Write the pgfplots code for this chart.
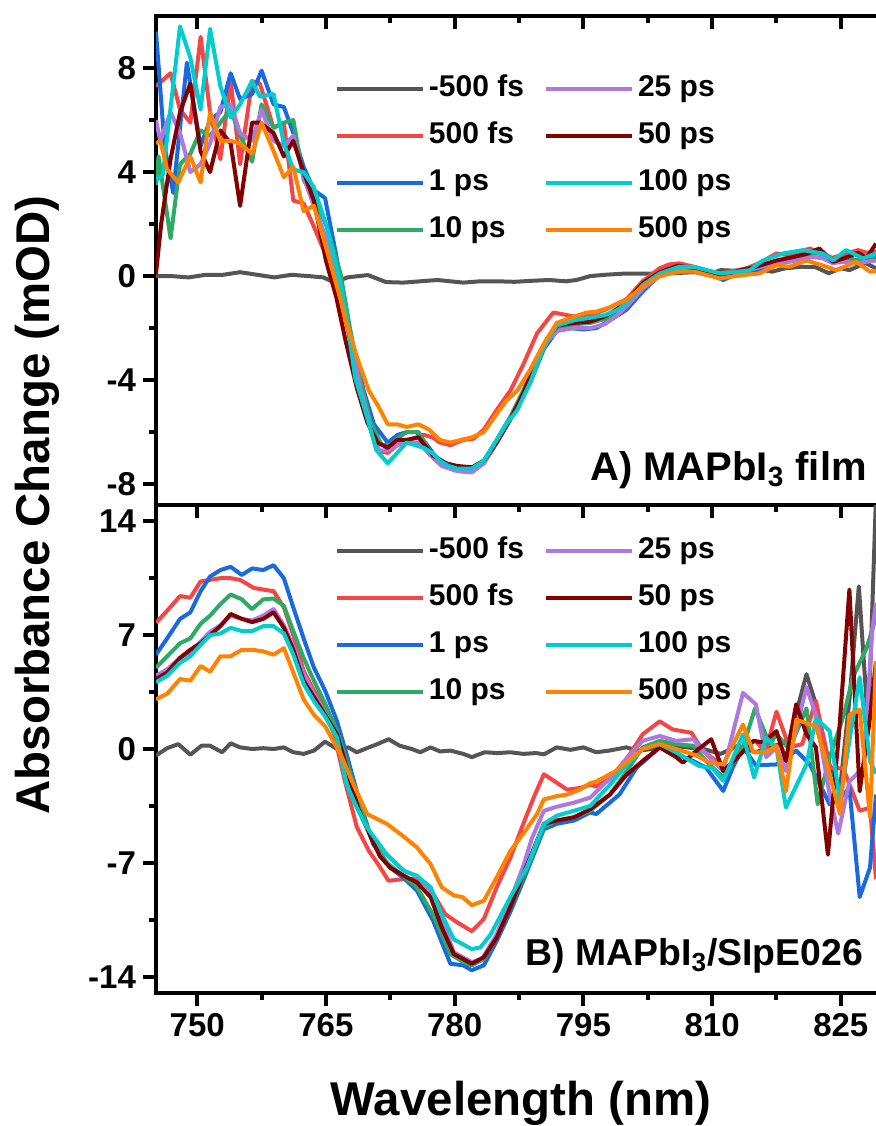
\documentclass[border=0pt]{standalone}
\usepackage{fontspec}
\setmainfont{Liberation Sans}
\usepackage{pgfplots}
\pgfplotsset{compat=1.18}
\definecolor{cgrey}{RGB}{85,85,85}
\definecolor{cred}{RGB}{245,70,70}
\definecolor{cblue}{RGB}{25,105,225}
\definecolor{cgreen}{RGB}{45,170,100}
\definecolor{cpurple}{RGB}{175,120,225}
\definecolor{cdred}{RGB}{130,0,0}
\definecolor{ccyan}{RGB}{0,205,205}
\definecolor{corange}{RGB}{255,130,0}
\pgfplotsset{
  panel/.style={
    scale only axis, width=360pt,
    xmin=745.2, xmax=829.1,
    axis x line*=box, axis y line*=left,
    axis line style={-, line width=2.25pt, line cap=rect},
    tick align=outside, xtick pos=left, ytick pos=left,
    xtick={750,765,780,795,810,825},
    minor x tick num=1, minor y tick num=1,
    major tick length=6.5pt, minor tick length=3.5pt,
    tick style={black, line width=2pt},
    tick label style={font=\fontsize{16.5}{18}\selectfont\bfseries},
    every axis plot/.append style={line width=2pt, line join=round},
    legend columns=4, transpose legend,
    legend cell align=left,
    legend image code/.code={\draw[##1, line width=2pt] (0pt,0pt) -- (43pt,0pt);},
    legend style={draw=none, fill=none, inner sep=0pt,
      font=\fontsize{15}{17}\selectfont\bfseries, row sep=5pt,
      /tikz/every even column/.append style={column sep=8pt},
      nodes={text height=11pt, text depth=3.5pt, inner sep=2pt}},
  },
  tickpanel/.style={
    scale only axis, width=360pt,
    xmin=745.2, xmax=829.1,
    axis x line*=top, hide y axis,
    axis line style={-, line width=2.25pt},
    tick align=inside, xtick pos=right,
    xtick={750,765,780,795,810,825}, xticklabels={},
    minor x tick num=1,
    major tick length=6.5pt, minor tick length=3.5pt,
    tick style={black, line width=2pt},
  }
}
\begin{document}
\begin{tikzpicture}
\useasboundingbox (0,0) rectangle (438pt,563pt);
% ---------------- Panel A ----------------
\begin{axis}[panel, at={(78pt,555pt)}, anchor=north west, height=244.5pt,
  ymin=-8.8, ymax=10,
  ytick={-8,-4,0,4,8}, yticklabels={-8,-4,0,4,8}, xticklabels={},
  legend style={at={(axis description cs:0.248,0.889)}, anchor=north west}]
\addplot[cgrey] coordinates {(745.2,0)(747,0)(749,-0.05)(751,0.05)(753,0.05)(755,0.15)(757,0.05)(759,-0.05)(761,0.05)(763,0)(764.7,-0.05)(766,-0.25)(767.5,-0.05)(769.9,0.04)(772,-0.23)(774,-0.25)(776,-0.2)(778,-0.15)(779.5,-0.2)(781,-0.25)(783,-0.2)(785,-0.2)(787,-0.22)(789,-0.18)(791,-0.15)(793,-0.2)(794.2,-0.15)(795.8,0)(797.5,0.05)(800,0.1)(803,0.1)(806,0.12)(808,0.15)(809.5,0.05)(811,0.23)(813,0.2)(815,0.3)(817,0.17)(818.5,0.3)(820.5,0.36)(822,0.35)(823.6,0.11)(825,0.3)(826,0.23)(827.9,0.5)(829.1,0.3)};
\addlegendentry{-500 fs}
\addplot[cred] coordinates {(745.2,7.3)(746.9,7.8)(748,6.4)(749.2,5.9)(750.4,9.2)(751.5,6.3)(752.7,4.5)(753.9,7.5)(755,4.3)(756.4,7.5)(757.3,7.4)(758.9,5.7)(760.1,5.9)(761.2,2.9)(762.4,2.8)(763.6,1.9)(765,0.8)(766.5,-0.5)(767.5,-2.0)(768.6,-3.8)(769.7,-5.3)(770.9,-6.7)(772.2,-6.8)(773.3,-6.5)(774.4,-6.3)(775.6,-6.2)(776.4,-6.1)(777.4,-6.2)(778.3,-6.4)(779.5,-6.5)(781,-6.3)(782.2,-6.25)(783.4,-5.9)(784.9,-5.15)(786.5,-4.4)(788,-3.4)(789.6,-2.2)(791.5,-1.4)(793.1,-1.5)(794.6,-1.6)(795.8,-1.5)(797.5,-1.3)(799,-1.05)(800,-0.9)(801.9,-0.2)(803.9,0.3)(805,0.45)(806.2,0.49)(808,0.35)(809.5,0.2)(811,0.1)(812.5,0.2)(814,0.3)(815.5,0.5)(817.5,0.87)(819,0.8)(821.4,1.06)(822.5,0.9)(824,0.7)(825.5,0.85)(827,1.0)(828,0.9)(829.1,0.95)};
\addlegendentry{500 fs}
\addplot[cblue] coordinates {(745.2,9.4)(746.2,5.0)(747.2,3.2)(748.8,8.2)(750.4,5.0)(751.5,6.0)(752.7,6.3)(753.9,7.8)(755,6.8)(756.4,7.0)(757.5,7.9)(758.9,6.6)(760.1,6.5)(761.2,5.5)(762.4,4.2)(763.6,3.3)(764.9,3.0)(766.2,0.8)(767.8,-2.2)(769.4,-4.4)(770.6,-5.7)(772.2,-6.4)(773.4,-6.1)(774.4,-6.0)(775.6,-6.0)(776.8,-6.5)(777.9,-7.0)(779.1,-7.3)(780.3,-7.4)(782,-7.45)(783.4,-7.2)(784.9,-6.4)(786.3,-5.6)(787.5,-4.9)(788.8,-4.1)(790.4,-2.8)(791.9,-2.1)(793.5,-2.0)(795,-2.05)(796.5,-2.0)(798.1,-1.7)(800,-1.3)(801.9,-0.6)(803.9,0.05)(806,0.35)(808,0.3)(809.5,0.1)(811.3,-0.15)(813,0.1)(815,0.2)(817.5,0.55)(819.5,0.6)(821.4,0.74)(823,0.7)(824.5,0.6)(826,0.7)(827.5,0.5)(829.1,0.7)};
\addlegendentry{1 ps}
\addplot[cgreen] coordinates {(745.2,3.5)(745.5,4.6)(746.9,1.45)(748,4.3)(749.2,4.7)(750.4,5.6)(751.5,5.4)(752.7,5.9)(753.9,6.4)(755,5.4)(756.4,4.4)(757.5,6.6)(758.9,5.7)(760.1,5.9)(761.2,6.0)(762.4,3.7)(763.6,3.0)(765.1,1.9)(766.7,0.1)(767.8,-2.0)(769,-4.0)(770.2,-5.6)(771.5,-6.5)(772.5,-6.5)(773.5,-6.2)(774.4,-6.0)(775.8,-6.0)(777.2,-6.8)(778.5,-7.1)(780.3,-7.4)(782,-7.4)(783.4,-7.1)(784.9,-6.3)(786.5,-5.4)(788,-4.4)(789.5,-3.2)(790.8,-2.4)(792,-1.95)(793.9,-1.85)(795.8,-1.8)(797.5,-1.65)(799,-1.4)(800.5,-0.9)(802,-0.35)(803.9,0.05)(806,0.35)(808,0.3)(810,0.05)(811.5,-0.05)(813,0.1)(815,0.3)(817,0.5)(819,0.6)(821,0.8)(823,0.75)(824.5,0.55)(826,0.65)(827.5,0.6)(829.1,0.8)};
\addlegendentry{10 ps}
\addplot[cpurple] coordinates {(745.2,6.0)(745.7,5.2)(746.9,6.3)(748,5.5)(749.2,4.0)(750.4,4.3)(751.5,5.1)(752.7,6.5)(753.9,6.6)(755,5.5)(756.4,5.2)(757.5,6.4)(758.9,5.2)(760.1,5.0)(761.2,5.4)(762.4,3.8)(763.6,2.7)(765.1,1.4)(766.7,-0.5)(767.8,-2.3)(769,-4.3)(770.2,-5.8)(771.2,-6.7)(772.2,-6.7)(773.3,-6.5)(774.4,-6.4)(775.8,-6.4)(777.2,-6.9)(778.5,-7.3)(780.3,-7.5)(782,-7.55)(783.4,-7.2)(784.9,-6.4)(786.5,-5.5)(788,-4.5)(789.5,-3.3)(790.8,-2.5)(792,-2.1)(793.9,-2.0)(795.8,-2.0)(797.5,-1.85)(799,-1.5)(800.5,-1.0)(802,-0.45)(803.9,0)(806,0.3)(808,0.25)(810,0.05)(811.5,-0.05)(813,0.15)(815,0.3)(817,0.45)(819,0.55)(821,0.7)(822.5,0.75)(824,0.5)(825.5,0.55)(827,0.5)(829.1,0.6)};
\addlegendentry{25 ps}
\addplot[cdred] coordinates {(745.2,0.1)(745.8,2.0)(746.9,4.5)(748,6.3)(749.2,7.4)(750.4,4.8)(751.5,4.0)(752.7,5.6)(753.9,5.1)(755,2.7)(756.4,5.9)(757.3,5.9)(758.9,5.5)(760.1,4.6)(761.2,5.2)(762.4,4.0)(763.6,2.9)(765,0.6)(766.2,-0.8)(767.3,-2.5)(768.6,-4.3)(769.8,-5.6)(771,-6.4)(772.2,-6.6)(773.3,-6.3)(774.4,-6.3)(775.8,-6.2)(777.5,-6.9)(779,-7.2)(780.3,-7.3)(782,-7.35)(783.4,-7.1)(784.9,-6.4)(786.5,-5.5)(788,-4.5)(789.5,-3.3)(790.8,-2.4)(792,-1.9)(793.9,-1.8)(795.8,-1.75)(797.5,-1.55)(799,-1.25)(800.5,-0.8)(802,-0.25)(803.9,0.15)(806,0.4)(808,0.3)(810,0.1)(811.3,0)(813,0.2)(815,0.35)(817.5,0.6)(819,0.7)(821,0.85)(822.5,1.06)(824.1,0.55)(825.5,0.7)(827,0.9)(828,0.7)(829.1,1.25)};
\addlegendentry{50 ps}
\addplot[ccyan] coordinates {(745.3,3.7)(746,3.9)(748,9.6)(749.2,8.4)(750.4,6.4)(751.5,9.5)(752.7,7.3)(753.9,6.1)(755,6.6)(756.4,7.5)(757.3,6.9)(758.9,7.0)(760.1,5.1)(761.2,4.1)(762.4,4.0)(763.6,3.4)(765.1,1.9)(766.7,-0.3)(767.4,-1.56)(768.4,-3.9)(769.6,-5.2)(770.9,-6.7)(772.2,-7.2)(773.3,-6.8)(774.4,-6.4)(775.4,-6.5)(776.4,-6.6)(777.4,-6.8)(778.3,-7.1)(779.3,-7.3)(780.3,-7.4)(782,-7.4)(783.4,-7.1)(784.9,-6.3)(786,-5.7)(787.3,-5.15)(788.8,-4.1)(790.4,-2.7)(791.9,-1.9)(793.9,-1.7)(795.8,-1.6)(797.5,-1.5)(799,-1.3)(800,-1.05)(801.9,-0.35)(803.9,0.1)(806.2,0.36)(808,0.35)(810.9,0.1)(812.5,0.15)(814.4,0.23)(815.9,0.6)(818.3,0.87)(820.6,1.0)(822.9,0.87)(824.1,0.6)(825.6,1.0)(827.6,0.68)(829.1,0.87)};
\addlegendentry{100 ps}
\addplot[corange] coordinates {(745.2,5.1)(745.7,5.2)(746.5,4.1)(747.8,3.6)(749.2,4.6)(750.4,3.6)(751.5,6.3)(752.7,5.2)(753.9,5.2)(755,5.1)(756.4,4.7)(757.5,5.9)(758.9,4.8)(760.1,3.8)(761.2,4.2)(762.4,2.5)(763.6,2.7)(765.1,1.0)(766.7,-0.9)(767.4,-1.8)(768.6,-3.1)(770,-4.4)(771.1,-5.0)(772.2,-5.7)(773.3,-5.7)(774.4,-5.8)(775.8,-5.7)(777,-5.9)(778.3,-6.3)(779.5,-6.4)(780.7,-6.3)(782,-6.2)(783.4,-6.0)(784.9,-5.3)(786,-4.8)(787.3,-4.4)(788.8,-3.6)(790.4,-2.6)(791.9,-1.8)(793.9,-1.56)(795.4,-1.4)(796.5,-1.37)(798.1,-1.2)(800,-0.92)(801.9,-0.41)(803.9,0)(806.2,0.17)(808,0.17)(810.9,-0.09)(813.6,0.04)(815.5,0.1)(817.5,0.42)(819,0.36)(821,0.6)(822.1,0.49)(824.5,0.23)(826.8,0.55)(828.4,0.17)(829.1,0.2)};
\addlegendentry{500 ps}
\node[anchor=base east, font=\fontsize{20}{22}\selectfont\bfseries] at (axis description cs:0.997,0.05) {A) MAPbI\textsubscript{3} film};
\end{axis}
\begin{axis}[tickpanel, at={(78pt,555pt)}, anchor=north west, height=244.5pt, ymin=-8.8, ymax=10]
\end{axis}
% ---------------- Panel B ----------------
\begin{axis}[panel, at={(78pt,66.5pt)}, anchor=south west, height=244pt,
  ymin=-15, ymax=15,
  ytick={-14,-7,0,7,14}, yticklabels={-14,-7,0,7,14},
  xticklabels={750,765,780,795,810,825},
  legend style={at={(axis description cs:0.248,0.944)}, anchor=north west}]
\addplot[cgrey] coordinates {(745.2,-0.4)(746.5,0.05)(747.8,0.3)(749.2,-0.35)(750.5,0.2)(751.5,0.2)(752.9,-0.2)(753.9,0.35)(755,0.1)(756.4,0)(757.7,0.05)(758.9,0)(760.1,0.1)(761.2,-0.2)(762.4,-0.3)(763.6,-0.1)(764.9,0.45)(766.3,0)(767.6,0.1)(768.6,-0.2)(770,0.1)(771,0.3)(772.3,0.6)(773.6,0.2)(775,0)(776,-0.2)(777.2,0.1)(778.3,-0.15)(779.5,-0.1)(781,-0.3)(782,-0.5)(783.5,-0.2)(785,-0.25)(786.5,-0.2)(788,-0.3)(789.5,-0.25)(790.4,-0.33)(791.9,0.1)(793.5,-0.05)(795,0.1)(796.5,-0.2)(798,-0.1)(800,0.1)(801.5,-0.1)(803,0)(805,0.2)(807,0.1)(809,0)(811,-0.3)(813,0.2)(815,-0.2)(817,0.1)(819,0.6)(821,4.6)(822.1,2.75)(823.7,-1.0)(824.9,-2.5)(826,3.0)(827.1,10.0)(828.2,1.3)(829.1,15.5)};
\addlegendentry{-500 fs}
\addplot[cred] coordinates {(745.2,7.76)(746.5,8.5)(748,9.4)(749.2,9.3)(750.4,10.3)(751.5,10.4)(752.7,10.5)(753.9,10.5)(755,10.4)(756.6,9.9)(757.7,9.8)(758.9,9.7)(760.1,8.7)(761.2,7.0)(762.4,4.8)(763.6,3.6)(764.9,2.5)(766,0.8)(767.2,-1.96)(768.6,-4.8)(770,-6.26)(771.1,-7.1)(772.3,-8.1)(773.9,-8.0)(775.2,-8.0)(776.4,-8.2)(777.5,-8.9)(778.9,-10.15)(780.3,-10.66)(782,-11.2)(783.4,-10.45)(784.9,-8.5)(786.5,-6.67)(788,-4.6)(789.2,-3.0)(790.4,-1.55)(791.9,-2.07)(793.1,-2.5)(794.6,-2.4)(795.8,-2.2)(796.5,-2.3)(798.8,-1.6)(800.4,-0.33)(801.9,0.9)(803.9,1.7)(805.4,1.2)(807.6,1.0)(808.9,-0.1)(810.5,-0.74)(812,-1.35)(813.6,0.2)(815.1,0.5)(816.2,-0.2)(817.5,2.3)(819,0.1)(820.5,0.3)(822.1,2.95)(823.7,-1.15)(825.3,-1.2)(827.2,-3.8)(828.4,-3.6)(829.1,-8.0)};
\addlegendentry{500 fs}
\addplot[cblue] coordinates {(745.2,5.8)(746.5,6.8)(748,8.0)(749.2,8.4)(750.4,9.7)(751.5,10.6)(752.7,11.0)(753.9,11.2)(755.2,10.7)(756.4,11.1)(757.7,11.0)(758.9,11.3)(760.1,10.5)(761.2,8.7)(762.4,6.8)(763.6,5.0)(764.9,3.6)(766.3,1.7)(767.5,-0.5)(768.7,-2.8)(770.5,-5.85)(772.5,-7.3)(774,-7.9)(775.6,-8.7)(777.5,-10.56)(779.5,-13.2)(781,-13.3)(782,-13.6)(783.4,-13.3)(784.9,-11.8)(786.5,-10.0)(788,-8.1)(790.4,-4.93)(791.9,-4.6)(793.9,-4.4)(795.8,-3.9)(796.5,-4.0)(799.2,-2.8)(801.2,-1.15)(803.9,0.1)(805.8,-0.33)(807.8,-0.74)(809.3,-1.15)(811.3,-2.58)(812.4,-1.15)(813.6,0.1)(815.1,-1.0)(817.5,-0.95)(819.8,-0.1)(821.4,-0.95)(823.7,-3.4)(825.3,-2.8)(826,-2.4)(827.2,-9.1)(828.4,-7.3)(829.1,-2.8)};
\addlegendentry{1 ps}
\addplot[cgreen] coordinates {(745.2,5.0)(746.5,5.7)(748,6.5)(749.2,6.8)(750.4,7.7)(751.5,8.2)(752.7,8.9)(753.9,9.5)(755.2,9.2)(756.4,8.6)(757.7,9.2)(758.9,9.25)(760.1,8.8)(761.2,7.25)(762.4,5.6)(763.6,4.2)(764.9,2.8)(766.3,1.1)(767.5,-0.9)(768.7,-3.0)(770.3,-5.5)(772.1,-7.0)(774,-7.8)(775.6,-8.5)(777.5,-10.2)(779.5,-12.6)(781,-13.1)(782,-13.3)(783.4,-12.9)(784.9,-11.6)(786.5,-9.7)(788,-7.9)(790.4,-4.8)(791.9,-4.4)(793.9,-4.2)(795.8,-3.8)(798.1,-2.8)(800,-1.4)(801.9,0.1)(803.9,0.5)(805.8,0.3)(807.8,0.2)(809.3,-0.74)(811.3,-1.76)(813.6,0.1)(815,2.5)(816.7,0.3)(817.5,0.9)(819,0)(821,2.5)(822.3,-3.4)(823.7,-0.5)(825.3,2.0)(826.4,4.4)(828,6.2)(829.1,8.1)};
\addlegendentry{10 ps}
\addplot[cpurple] coordinates {(745.2,4.5)(746.5,4.9)(748,5.6)(749.2,6.0)(750.4,6.6)(751.5,7.2)(752.7,7.6)(753.9,8.2)(755.2,8.0)(756.4,7.9)(757.7,8.2)(758.9,8.6)(760.1,7.6)(761.2,6.3)(762.4,4.6)(763.6,3.4)(764.9,2.2)(766.3,0.8)(767.4,-1.5)(768.8,-3.8)(770.3,-5.3)(772.1,-6.5)(774.1,-7.5)(775.6,-7.8)(777.2,-8.7)(778.5,-10.5)(779.9,-12.5)(782,-13.1)(783.2,-12.9)(784.9,-11.4)(786.5,-9.3)(788,-7.2)(789,-5.5)(790.4,-3.8)(791.9,-3.55)(793.9,-3.3)(795.8,-2.99)(798.1,-1.8)(800,-0.6)(801.9,0.5)(803.9,0.8)(805.8,0.5)(807.8,0.6)(809.3,-0.3)(811.3,-1.35)(813.6,3.45)(815.1,2.75)(816.3,-0.5)(817.5,0.1)(818.6,-1.35)(821,3.8)(822.1,2.1)(823.7,-2.8)(824.7,-5.2)(826,-2.0)(827.6,-1.15)(828.7,7.45)(829.1,9.0)};
\addlegendentry{25 ps}
\addplot[cdred] coordinates {(745.2,4.3)(746.5,4.7)(748,5.6)(749.2,6.1)(750.4,6.5)(751.5,7.0)(752.7,7.55)(753.9,8.3)(755.2,8.0)(756.4,7.8)(757.7,8.0)(758.9,8.4)(760.1,7.45)(761.2,6.1)(762.4,4.2)(763.6,3.2)(764.9,2.1)(766.3,0.9)(767.5,-1.3)(768.8,-3.7)(770.3,-5.5)(771.3,-6.6)(772.5,-7.3)(774.1,-7.8)(775.6,-8.2)(777.2,-9.1)(778.5,-10.97)(779.9,-12.6)(782,-13.2)(783.4,-12.8)(784.9,-11.6)(786.5,-9.7)(788,-7.7)(790.4,-4.6)(791.9,-4.4)(793.9,-4.2)(795.8,-3.7)(798.1,-2.8)(800,-1.6)(801.9,-0.74)(803.9,0.1)(805.8,-0.5)(806.6,-0.84)(808.2,-0.1)(809.9,0.6)(811.3,-1.35)(813,-0.5)(814.8,0.5)(816,0.4)(817.5,1.1)(818.6,-0.74)(819.8,2.75)(821,0.9)(822.1,0.1)(823.5,-6.5)(824.8,1.0)(826,9.8)(827.2,-2.6)(828.4,1.9)(829.1,5.4)};
\addlegendentry{50 ps}
\addplot[ccyan] coordinates {(745.2,4.1)(746.5,4.5)(748,5.3)(749.2,5.7)(750.4,6.4)(751.5,7.0)(752.7,7.1)(753.9,7.45)(755.2,7.25)(756.4,7.25)(757.7,7.55)(758.9,7.55)(760.1,7.1)(761.2,5.8)(762.4,4.0)(763.6,2.95)(764.9,2.0)(766.3,0.7)(767.4,-2.17)(768.6,-3.6)(769.8,-4.83)(772.1,-6.5)(774.1,-7.5)(775.6,-7.8)(777.2,-8.5)(778.3,-9.95)(779.9,-11.7)(782,-12.3)(783,-12.2)(784.2,-11.4)(786.5,-9.1)(788.4,-7.3)(790.4,-4.6)(791.9,-4.1)(793.9,-3.8)(795.8,-3.5)(798.1,-2.2)(800,-1.0)(801.9,0)(803.9,0.3)(805.8,-0.2)(808.5,-1.05)(810,-1.15)(811.3,-1.96)(813.6,0.9)(814.9,-1.76)(816.3,0.7)(817.5,0.1)(818.6,-3.6)(821,-0.95)(822.1,1.9)(823.7,1.1)(824.9,-3.2)(826,0.5)(827.2,4.4)(828.4,-0.74)(829.1,-1.5)};
\addlegendentry{100 ps}
\addplot[corange] coordinates {(745.2,3.05)(746.5,3.4)(748,4.3)(749.2,4.2)(750.4,5.1)(751.5,4.75)(752.7,5.7)(753.9,5.7)(755.2,6.1)(756.4,6.1)(757.7,6.0)(758.9,5.8)(760.1,6.2)(761.2,4.7)(762.4,3.05)(763.6,2.1)(764.9,1.4)(766.7,-0.3)(768.2,-2.17)(769.8,-4.0)(772.1,-4.6)(774.1,-5.4)(775.6,-6.05)(777.2,-7.08)(778.5,-8.5)(779.9,-9.0)(780.9,-9.1)(782,-9.6)(783.4,-9.33)(784.9,-7.9)(786.5,-6.26)(788,-5.2)(789.6,-4.0)(790.4,-3.1)(791.9,-2.9)(793.1,-2.8)(794.6,-2.5)(795.8,-2.1)(796.5,-2.0)(798.8,-1.35)(801.9,0)(803.9,0.3)(805.8,0)(808.2,-0.4)(809.7,-0.84)(811.3,-0.95)(813.6,1.5)(814.8,-0.2)(816.3,-0.2)(817.5,0.2)(818.6,-2.6)(819.8,1.8)(822.1,1.4)(823.3,-0.74)(824.9,-4.0)(826,2.1)(827.2,2.4)(828.4,-4.2)(829.1,5.4)};
\addlegendentry{500 ps}
\node[anchor=base east, font=\fontsize{18.7}{20}\selectfont\bfseries] at (axis description cs:0.992,0.057) {B) MAPbI\textsubscript{3}/SIpE026};
\end{axis}
\node[rotate=90, anchor=base, font=\fontsize{23.7}{26}\selectfont\bfseries] at (24.5pt,310.5pt) {Absorbance Change (mOD)};
\node[anchor=base, font=\fontsize{23.7}{26}\selectfont\bfseries] at (260.5pt,5.2pt) {Wavelength (nm)};
\end{tikzpicture}
\end{document}
